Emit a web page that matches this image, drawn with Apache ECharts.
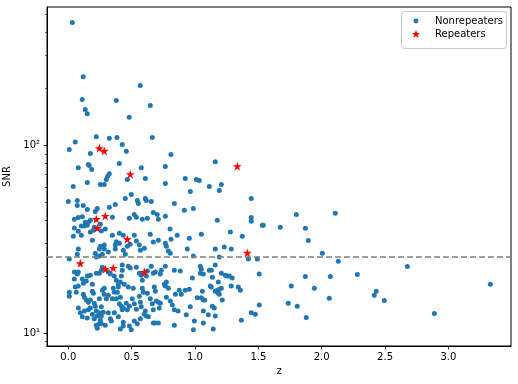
<!DOCTYPE html>
<html><head><meta charset="utf-8">
<script src="https://cdn.jsdelivr.net/npm/echarts@6/dist/echarts.min.js"></script>
<style>html,body{margin:0;padding:0;background:#fff}#c{width:518px;height:384px}</style>
</head><body><div id="c"></div>
<script>
// Nonrepeaters: redshift z and SNR
const nonZ = [
0.032,0.118,0.568,0.110,0.379,0.647,0.134,0.150,0.481,
0.221,0.055,0.324,0.384,0.663,0.008,0.426,0.174,0.458,0.810,
0.079,0.158,0.165,0.185,0.403,0.576,0.766,0.324,0.311,0.300,
0.466,0.608,0.039,0.150,0.253,0.284,0.766,0.000,0.071,0.071,
0.118,0.150,0.229,0.213,0.324,0.371,0.450,0.497,0.545,0.553,
0.608,0.616,0.655,0.837,0.671,0.702,0.521,
0.048,0.079,0.111,0.158,0.174,0.134,0.150,0.127,0.103,0.048,
0.205,0.253,0.348,0.537,0.584,0.624,0.711,0.766,0.482,0.040,
0.079,0.103,0.174,0.198,0.261,0.292,0.348,0.403,0.434,0.521,
0.647,0.671,0.711,0.766,0.774,0.537,0.561,0.379,0.371,0.403,
0.190,0.253,0.245,0.284,0.284,0.316,0.269,0.213,0.079,0.071,
0.466,0.569,0.600,0.371,0.434,0.805,0.790,0.450,0.489,0.008,
0.245,0.221,0.048,0.079,0.071,0.111,0.048,0.119,0.142,0.150,
0.174,0.221,0.245,0.261,0.269,0.316,0.332,0.363,0.379,0.411,
0.419,0.426,0.426,0.474,0.489,0.537,0.561,0.576,0.584,0.616,
0.624,0.655,0.671,0.687,0.726,0.734,0.758,0.766,0.774,0.837,
0.442,0.395,0.190,0.803,0.811,
0.008,0.008,0.055,0.063,0.079,0.119,0.127,0.142,0.158,0.174,
0.190,0.198,0.205,0.245,0.261,0.269,0.284,0.284,0.300,0.316,
0.355,0.363,0.379,0.387,0.395,0.411,0.403,0.419,0.426,0.434,
0.458,0.466,0.482,0.474,0.505,0.513,0.521,0.537,0.561,0.569,
0.576,0.584,0.592,0.600,0.608,0.616,0.624,0.632,0.647,0.663,
0.671,0.679,0.687,0.695,0.711,0.718,0.726,0.766,0.774,0.790,
0.805,0.821,0.837,0.845,0.837,0.079,0.095,0.111,0.127,0.150,
0.158,0.174,0.190,0.205,0.213,0.221,0.229,0.245,0.253,0.261,
0.276,0.221,0.229,0.245,0.261,0.292,0.316,0.332,0.340,0.348,
0.363,0.411,0.434,0.482,0.497,0.545,0.671,0.687,0.711,0.521,
0.569,0.395,0.434,
1.160,0.923,1.010,1.034,1.208,1.113,1.192,0.963,1.444,0.916,0.987,
1.444,1.444,1.176,1.531,1.539,1.673,1.050,1.279,1.373,0.860,
0.955,0.939,1.160,1.231,1.286,0.987,1.192,1.421,1.492,0.884,
1.042,1.050,1.042,1.066,1.113,1.129,1.160,1.208,1.239,1.255,
1.271,1.294,1.507,0.979,1.137,1.184,
0.876,0.892,0.923,0.955,1.018,1.050,1.066,1.077,1.058,1.121,
1.129,1.160,1.176,1.192,1.208,1.184,1.192,1.215,1.286,1.342,
1.358,0.963,0.931,0.995,0.987,1.066,1.066,1.105,1.137,1.152,
1.160,1.144,1.366,1.444,1.476,1.507,1.736,1.760,0.866,
1.800,2.107,1.871,1.894,2.005,2.131,2.676,1.871,2.068,2.281,
1.942,3.331,2.431,2.415,2.060,2.494,1.807,2.889,1.878
];
const nonSNR = [
450,232,208,175,173,163,155,147,141,
111,104,109,110,110,94.8,101,90.3,92.9,89.2,
76.0,78.9,78.0,74.3,80.0,76.0,77.1,70.4,68.4,65.7,
65.7,66.5,60.3,63.3,61.8,61.8,62.5,50.2,50.8,47.7,
47.7,45.5,46.0,44.4,46.8,48.4,52.1,54.7,50.8,49.0,
52.1,50.8,50.2,49.0,43.8,42.8,42.8,
40.4,41.2,41.6,38.9,39.9,38.9,37.5,37.1,37.1,36.2,
36.6,38.0,41.4,41.4,40.4,40.9,40.4,41.9,40.9,32.8,
34.8,33.2,34.5,35.3,34.9,35.8,33.2,34.0,33.2,33.2,
33.6,30.5,31.2,30.1,29.0,30.9,29.4,30.6,29.4,30.1,
31.2,29.0,28.0,29.4,28.0,27.0,26.3,26.6,28.0,26.3,
29.0,27.6,28.3,28.0,27.6,26.6,27.3,26.3,29.7,24.8,
25.7,25.4,21.1,21.1,20.6,19.4,19.4,18.4,18.9,20.1,
20.3,20.8,20.8,21.6,22.4,21.1,20.6,20.1,19.1,18.7,
20.1,21.6,23.0,22.7,22.2,22.4,20.8,20.3,19.1,20.1,
21.4,22.7,20.8,21.1,20.6,21.6,18.2,22.7,18.7,21.6,
18.2,18.2,18.2,35.8,31.6,
16.5,15.7,17.6,16.5,17.8,16.1,15.5,15.0,14.6,15.0,
16.7,16.3,14.4,15.2,13.8,16.9,17.3,16.1,15.2,15.9,
17.3,16.5,15.2,16.5,17.6,15.5,14.3,13.9,13.3,13.6,
14.4,13.3,13.9,17.6,15.2,17.3,14.3,13.4,15.7,14.6,
13.8,17.3,16.5,12.6,13.1,12.3,16.3,12.2,15.2,14.3,
13.3,17.6,16.7,14.8,14.6,13.6,14.4,17.8,15.5,17.3,
14.8,14.1,13.3,16.1,11.0,13.6,12.8,12.2,13.1,12.0,
13.3,13.6,12.6,11.9,13.9,13.1,12.3,12.8,11.7,12.3,
12.9,11.0,10.6,11.2,11.2,11.0,12.8,11.9,11.6,15.2,
12.8,10.5,10.9,10.9,10.4,11.2,11.3,11.3,11.3,11.6,
11.9,12.2,11.4,
81.8,66.5,65.7,64.9,61.8,60.3,57.4,56.7,52.1,45.0,46.1,
41.2,39.4,39.9,37.5,37.5,36.6,33.6,34.5,32.8,33.2,
32.0,28.0,28.0,28.7,28.0,25.7,25.4,24.8,24.8,21.4,
22.7,21.9,20.8,20.6,21.6,21.6,23.0,20.8,20.3,20.1,
20.1,19.6,20.6,19.6,19.8,18.7,
16.9,16.1,16.9,17.1,15.4,15.4,15.0,15.0,16.7,17.8,
17.6,16.7,16.9,17.1,17.3,16.3,16.1,15.0,17.8,17.6,
16.9,13.8,12.5,11.6,10.4,11.3,13.1,12.5,13.9,13.6,
12.3,10.5,11.7,12.8,12.6,14.1,14.4,17.8,13.1,
42.8,43.4,36.1,31.1,26.6,24.1,22.6,20.0,20.0,20.5,
17.3,18.2,16.7,15.9,15.3,14.9,13.9,12.7,12.1
];
// Repeaters
const repZ   = [0.245,0.284,0.489,1.334,0.221,0.292,0.229,0.466,0.095,0.292,0.355,0.600,1.413];
const repSNR = [96.4,93.3,70.1,77.3,40.4,42.0,36.2,31.6,23.5,21.9,22.2,21.1,26.7];
const threshold = 25.5;
const seriesNames = ['Nonrepeaters', 'Repeaters'];
const xTicks = [0, 0.5, 1.0, 1.5, 2.0, 2.5, 3.0];
const yMajor = [10, 100];
const yMajorLabels = ['10\u00b9', '10\u00b2'];
const yMinor = [9, 20, 30, 40, 50, 60, 70, 80, 90, 200, 300, 400, 500];

const STAR = 'path://M0,-100L22.45,-30.9L95.1,-30.9L36.3,11.8L58.8,80.9L0,38.2L-58.8,80.9L-36.3,11.8L-95.1,-30.9L-22.45,-30.9Z';
const FONT = 'DejaVu Sans';
const BLUE = '#1f77b4', RED = '#ff0000';
const nonData = nonZ.map((z, i) => [z, nonSNR[i]]);
const repData = repZ.map((z, i) => [z, repSNR[i]]);
const YMIN = 8.525, YMAX = 545;

function starPoints(cx, cy, R) {
  const pts = [];
  for (let k = 0; k < 10; k++) {
    const r = k % 2 === 0 ? R : R * 0.382;
    const a = -Math.PI / 2 + k * Math.PI / 5;
    pts.push([cx + r * Math.cos(a), cy + r * Math.sin(a)]);
  }
  return pts;
}

const chart = echarts.init(document.getElementById('c'), null, {renderer: 'canvas'});
chart.setOption({
  animation: false,
  backgroundColor: '#fff',
  grid: {left: 47, right: 7, top: 7, bottom: 38, show: true, borderColor: '#000', borderWidth: 1,
         backgroundColor: 'transparent', containLabel: false, outerBoundsMode: 'none'},
  xAxis: {
    type: 'value', min: -0.168, max: 3.494,
    name: 'z', nameLocation: 'middle', nameGap: 18,
    nameTextStyle: {fontSize: 10, fontFamily: FONT, color: '#000'},
    axisLine: {show: true, onZero: false, lineStyle: {color: '#000', width: 1}},
    axisTick: {show: true, length: 3.5, customValues: xTicks, lineStyle: {color: '#000', width: 0.8}},
    axisLabel: {customValues: xTicks, formatter: v => Number(v).toFixed(1), margin: 6, fontSize: 10, fontFamily: FONT, color: '#000'},
    splitLine: {show: false}
  },
  yAxis: [{
    type: 'log', logBase: 10, min: YMIN, max: YMAX, position: 'left',
    name: 'SNR', nameLocation: 'middle', nameGap: 30,
    nameTextStyle: {fontSize: 10, fontFamily: FONT, color: '#000'},
    axisLine: {show: true, onZero: false, lineStyle: {color: '#000', width: 1}},
    axisTick: {show: true, length: 3.5, customValues: yMajor, lineStyle: {color: '#000', width: 0.8}},
    axisLabel: {customValues: yMajor, formatter: v => yMajorLabels[yMajor.findIndex(m => Math.abs(m - v) < 1e-6)] || '', margin: 7, fontSize: 10, fontFamily: FONT, color: '#000'},
    splitLine: {show: false}, minorTick: {show: false}
  }, {
    type: 'log', logBase: 10, min: YMIN, max: YMAX, position: 'left',
    axisLine: {show: false, onZero: false},
    axisTick: {show: true, length: 2, customValues: yMinor, lineStyle: {color: '#000', width: 0.6}},
    axisLabel: {show: false},
    splitLine: {show: false}
  }],
  graphic: [
    {type: 'rect', z: 10, silent: true,
     shape: {x: 401.5, y: 11.5, width: 105, height: 37, r: 3},
     style: {fill: 'rgba(255,255,255,0.8)', stroke: '#c8c8c8', lineWidth: 1}},
    {type: 'circle', z: 11, silent: true, shape: {cx: 416, cy: 21, r: 2.4}, style: {fill: BLUE}},
    {type: 'polygon', z: 11, silent: true, shape: {points: starPoints(416, 34.3, 4.6)}, style: {fill: RED}},
    {type: 'text', z: 11, silent: true, x: 435, y: 21,
     style: {text: seriesNames[0], fontSize: 10, fontFamily: FONT, fill: '#000', verticalAlign: 'middle', align: 'left'}},
    {type: 'text', z: 11, silent: true, x: 435, y: 34,
     style: {text: seriesNames[1], fontSize: 10, fontFamily: FONT, fill: '#000', verticalAlign: 'middle', align: 'left'}}
  ],
  series: [{
    name: seriesNames[0], type: 'scatter', data: nonData, yAxisIndex: 0,
    symbol: 'circle', symbolSize: 5, itemStyle: {color: BLUE, opacity: 1}, z: 2
  }, {
    name: seriesNames[1], type: 'scatter', data: repData, yAxisIndex: 0,
    symbol: STAR, symbolSize: 9, itemStyle: {color: RED, opacity: 1}, z: 3
  }, {
    name: 'threshold', type: 'scatter', data: [], yAxisIndex: 0, z: 4,
    markLine: {silent: true, symbol: 'none', label: {show: false},
      lineStyle: {color: '#808080', type: [6, 3], width: 1.6},
      data: [{yAxis: threshold}]}
  }]
});
</script>
</body></html>
